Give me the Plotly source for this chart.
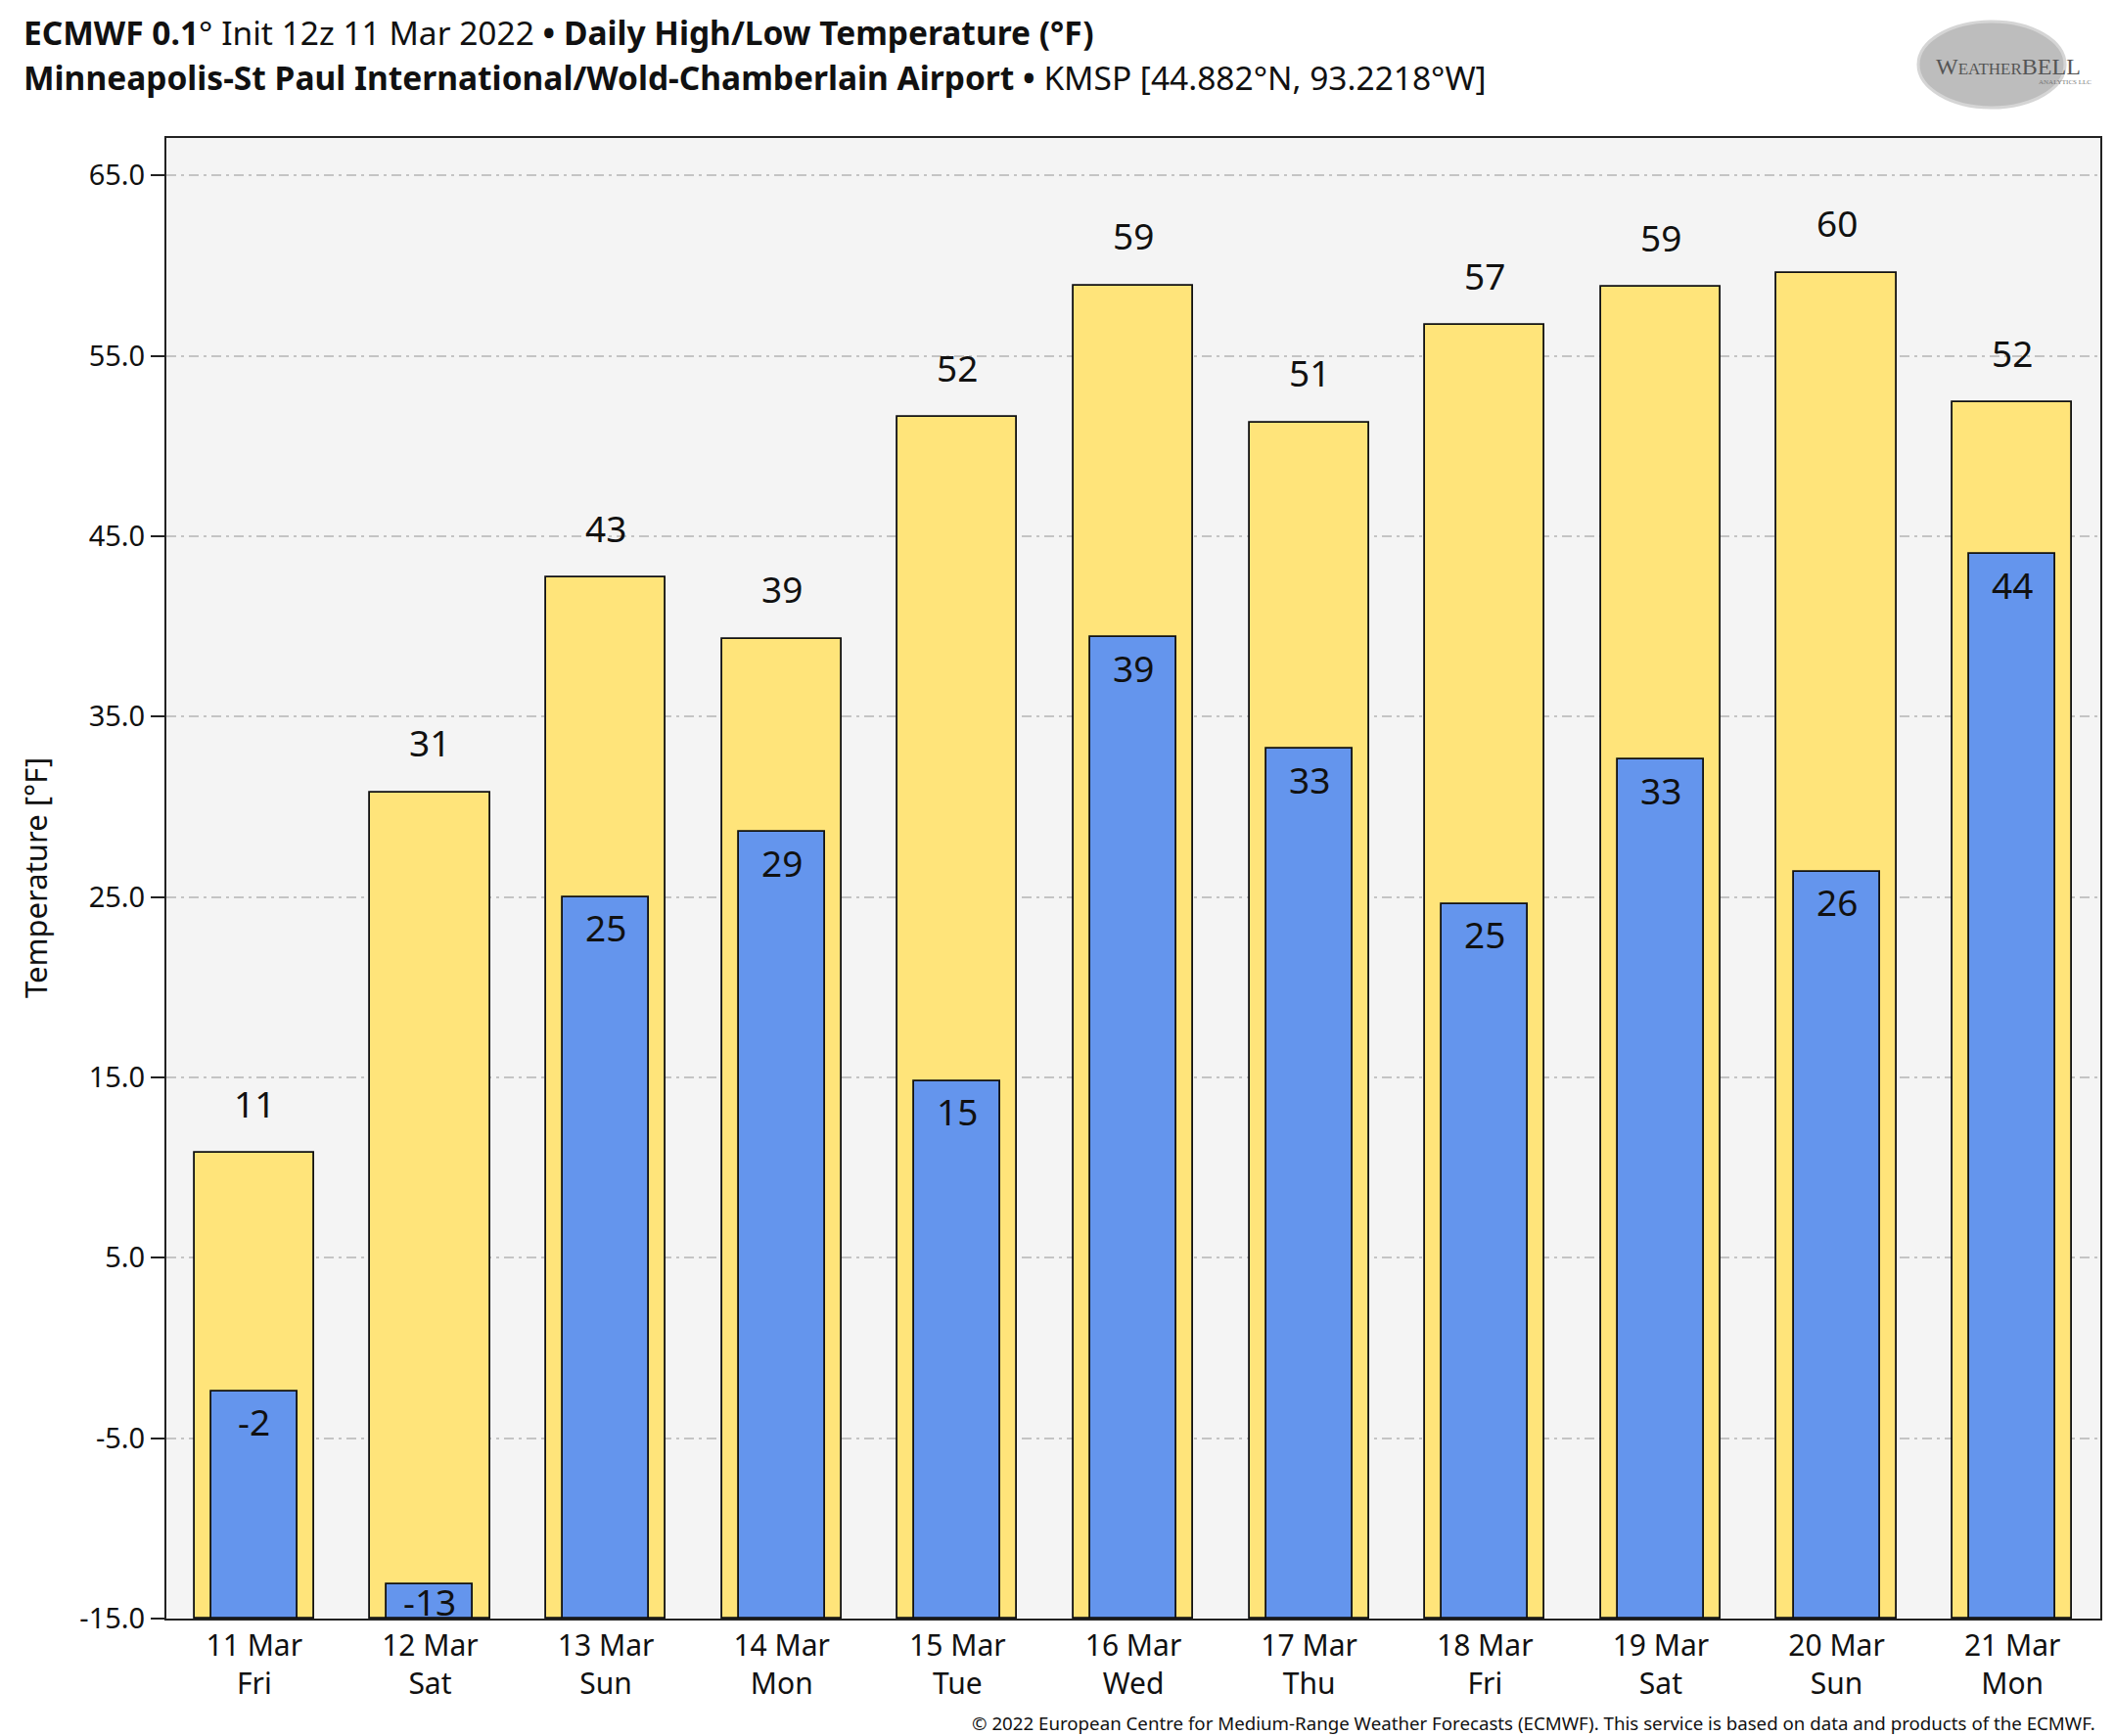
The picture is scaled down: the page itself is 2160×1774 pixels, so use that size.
import plotly.graph_objects as go

dates = ["11 Mar", "12 Mar", "13 Mar", "14 Mar", "15 Mar", "16 Mar",
         "17 Mar", "18 Mar", "19 Mar", "20 Mar", "21 Mar"]
weekdays = ["Fri", "Sat", "Sun", "Mon", "Tue", "Wed", "Thu", "Fri", "Sat", "Sun", "Mon"]
highs = [10.8, 30.8, 42.7, 39.3, 51.6, 58.9, 51.3, 56.7, 58.8, 59.6, 52.4]
lows = [-2.4, -13.1, 25.0, 28.6, 14.8, 39.4, 33.2, 24.6, 32.6, 26.4, 44.0]
y_ticks = [-15, -5, 5, 15, 25, 35, 45, 55, 65]

Y_MIN, Y_MAX = -15, 67.07
W, H = 2160, 1774
M_L, M_R, M_T, M_B = 170, 14, 141, 120

YELLOW = "#FFE47A"
BLUE = "#6495ED"
FONT = "Noto Sans"

cats = [f"{d}<br>{w}" for d, w in zip(dates, weekdays)]

fig = go.Figure()
fig.add_trace(go.Bar(
    x=cats, y=[v - Y_MIN for v in highs], base=Y_MIN, width=0.68,
    marker=dict(color=YELLOW, line=dict(color="#111111", width=1.8)),
    name="High", hoverinfo="skip"))
fig.add_trace(go.Bar(
    x=cats, y=[v - Y_MIN for v in lows], base=Y_MIN, width=0.49,
    marker=dict(color=BLUE, line=dict(color="#111111", width=1.8)),
    name="Low", hoverinfo="skip"))

px_per_unit = (H - M_T - M_B) / (Y_MAX - Y_MIN)
ann = []
for c, v in zip(cats, highs):
    ann.append(dict(x=c, y=v, xref="x", yref="y", text=f"{round(v)}",
                    showarrow=False, yanchor="middle", yshift=51,
                    font=dict(family=FONT, size=37, color="#111111")))
for c, v in zip(cats, lows):
    shift = min(31, (v - Y_MIN) * px_per_unit / 2)
    ann.append(dict(x=c, y=v, xref="x", yref="y", text=f"{round(v)}",
                    showarrow=False, yanchor="middle", yshift=-shift,
                    font=dict(family=FONT, size=37, color="#111111")))

# titles
ann.append(dict(x=22, y=H - 33, xref="paper", yref="paper", showarrow=False,
                text="<b>ECMWF 0.1</b>° Init 12z 11 Mar 2022 <b>•</b> <b>Daily High/Low Temperature (°F)</b>",
                xanchor="left", yanchor="middle",
                font=dict(family=FONT, size=33.5, color="#111111")))
ann.append(dict(x=22, y=H - 79, xref="paper", yref="paper", showarrow=False,
                text="<b>Minneapolis-St Paul International/Wold-Chamberlain Airport</b> <b>•</b> KMSP [44.882°N, 93.2218°W]",
                xanchor="left", yanchor="middle",
                font=dict(family=FONT, size=33.5, color="#111111")))
ann.append(dict(x=W - 17, y=14, xref="paper", yref="paper", showarrow=False,
                text="© 2022 European Centre for Medium-Range Weather Forecasts (ECMWF). This service is based on data and products of the ECMWF.",
                xanchor="right", yanchor="middle",
                font=dict(family=FONT, size=18.7, color="#111111")))
# y-axis title
ann.append(dict(x=36, y=H - 897, xref="paper", yref="paper", showarrow=False,
                text="Temperature [°F]", textangle=-90, xanchor="center", yanchor="middle",
                font=dict(family=FONT, size=31, color="#111111")))
# logo text
ann.append(dict(x=2052, y=H - 68, xref="paper", yref="paper", showarrow=False,
                text="W<span style='font-size:17px'>EATHER</span>BELL", xanchor="center", yanchor="middle",
                font=dict(family="Liberation Serif", size=24, color="#555555")))
ann.append(dict(x=2110, y=H - 84, xref="paper", yref="paper", showarrow=False,
                text="ANALYTICS LLC", xanchor="center", yanchor="middle",
                font=dict(family="Liberation Serif", size=7, color="#777777")))

# convert pixel-based paper annotations
for a in ann:
    if a["xref"] == "paper":
        a["x"] = (a["x"] - M_L) / (W - M_L - M_R)
        a["y"] = (a["y"] - M_B) / (H - M_T - M_B)

shapes = [
    dict(type="circle", xref="paper", yref="paper",
         x0=(1960 - M_L) / (W - M_L - M_R), x1=(2110 - M_L) / (W - M_L - M_R),
         y0=(H - 110 - M_B) / (H - M_T - M_B), y1=(H - 22 - M_B) / (H - M_T - M_B),
         fillcolor="#a8a8a8", line=dict(color="#c8c8c8", width=3), opacity=0.75, layer="below"),
]

fig.update_layout(
    width=W, height=H,
    margin=dict(l=M_L, r=M_R, t=M_T, b=M_B, autoexpand=False),
    paper_bgcolor="white", plot_bgcolor="#F4F4F4",
    barmode="overlay", bargap=0, showlegend=False,
    annotations=ann, shapes=shapes,
    font=dict(family=FONT, color="#111111"),
)
fig.update_xaxes(
    range=[-0.5, len(cats) - 0.5], showgrid=False,
    showline=True, linecolor="#222222", linewidth=2, mirror=True,
    ticks="", tickfont=dict(family=FONT, size=30, color="#111111"),
)
fig.update_yaxes(
    range=[Y_MIN, Y_MAX], tickvals=y_ticks, ticktext=[f"{t:.1f}" for t in y_ticks],
    showgrid=True, gridcolor="#C4C4C4", gridwidth=1.5, griddash="10px,5px,3px,5px",
    showline=True, linecolor="#222222", linewidth=2, mirror=True,
    ticks="outside", ticklen=14, tickwidth=2, tickcolor="#222222",
    tickfont=dict(family=FONT, size=29, color="#111111"),
    zeroline=False,
)

fig.write_html("out.html", config={"displayModeBar": False},
               post_script="document.body.style.margin='0';")
